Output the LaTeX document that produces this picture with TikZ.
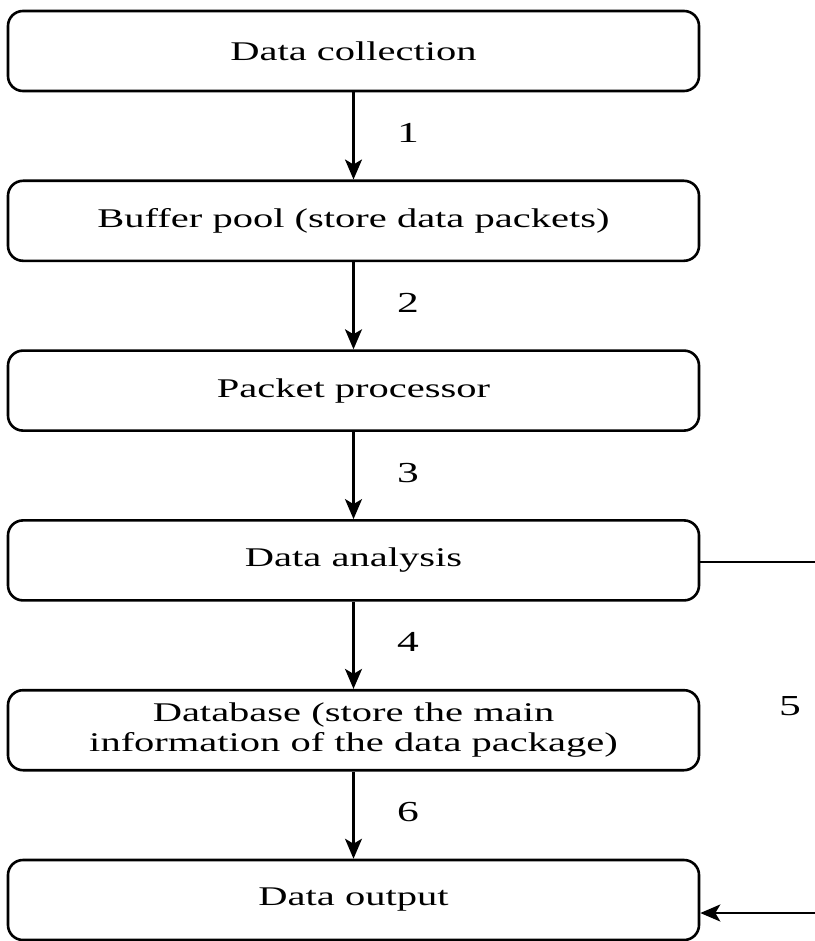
\documentclass[tikz,border=0pt]{standalone}
\usepackage{fontspec}
\setmainfont[FakeStretch=1.5]{Liberation Serif}
\usetikzlibrary{arrows.meta}
\begin{document}
\begin{tikzpicture}[x=1pt,y=-1pt,
  stepbox/.style={draw, line width=2.6pt, rounded corners=15pt, minimum width=691pt,
    minimum height=80pt, align=center, font=\fontsize{27}{30}\selectfont, inner sep=0pt},
  flow/.style={line width=2.4pt, -{Stealth[length=20pt,width=17pt,inset=5pt]}},
  lbl/.style={font=\fontsize{29}{31}\selectfont}]
\useasboundingbox (0,0) rectangle (814,941);
% the six stages, top to bottom
\node[stepbox] (b1) at (353.5,51) {Data collection};
\node[stepbox] (b2) at (353.5,220.8) {Buffer pool (store data packets)};
\node[stepbox] (b3) at (353.5,390.6) {Packet processor};
\node[stepbox] (b4) at (353.5,560.4) {Data analysis};
\node[stepbox] (b5) at (353.5,730.2) {Database (store the main\\information of the data package)};
\node[stepbox] (b6) at (353.5,900) {Data output};
% main flow
\draw[flow] (b1) -- (b2);
\draw[flow] (b2) -- (b3);
\draw[flow] (b3) -- (b4);
\draw[flow] (b4) -- (b5);
\draw[flow] (b5) -- (b6);
\node[lbl] (l1) at (408,133) {1};
\node[lbl] (l2) at (408,302.8) {2};
\node[lbl] (l3) at (408,472.6) {3};
\node[lbl] (l4) at (408,642.4) {4};
\node[lbl] (l6) at (408,812.2) {6};
\node[lbl] (l5) at (790,706) {5};
% bypass on the right, running off the edge
\coordinate (r1) at (816,562);
\coordinate (r2) at (816,913);
\draw[line width=2.4pt] (b4.east |- r1) -- (r1);
\draw[flow] (r2) -- (b6.east |- r2);
\end{tikzpicture}
\end{document}
